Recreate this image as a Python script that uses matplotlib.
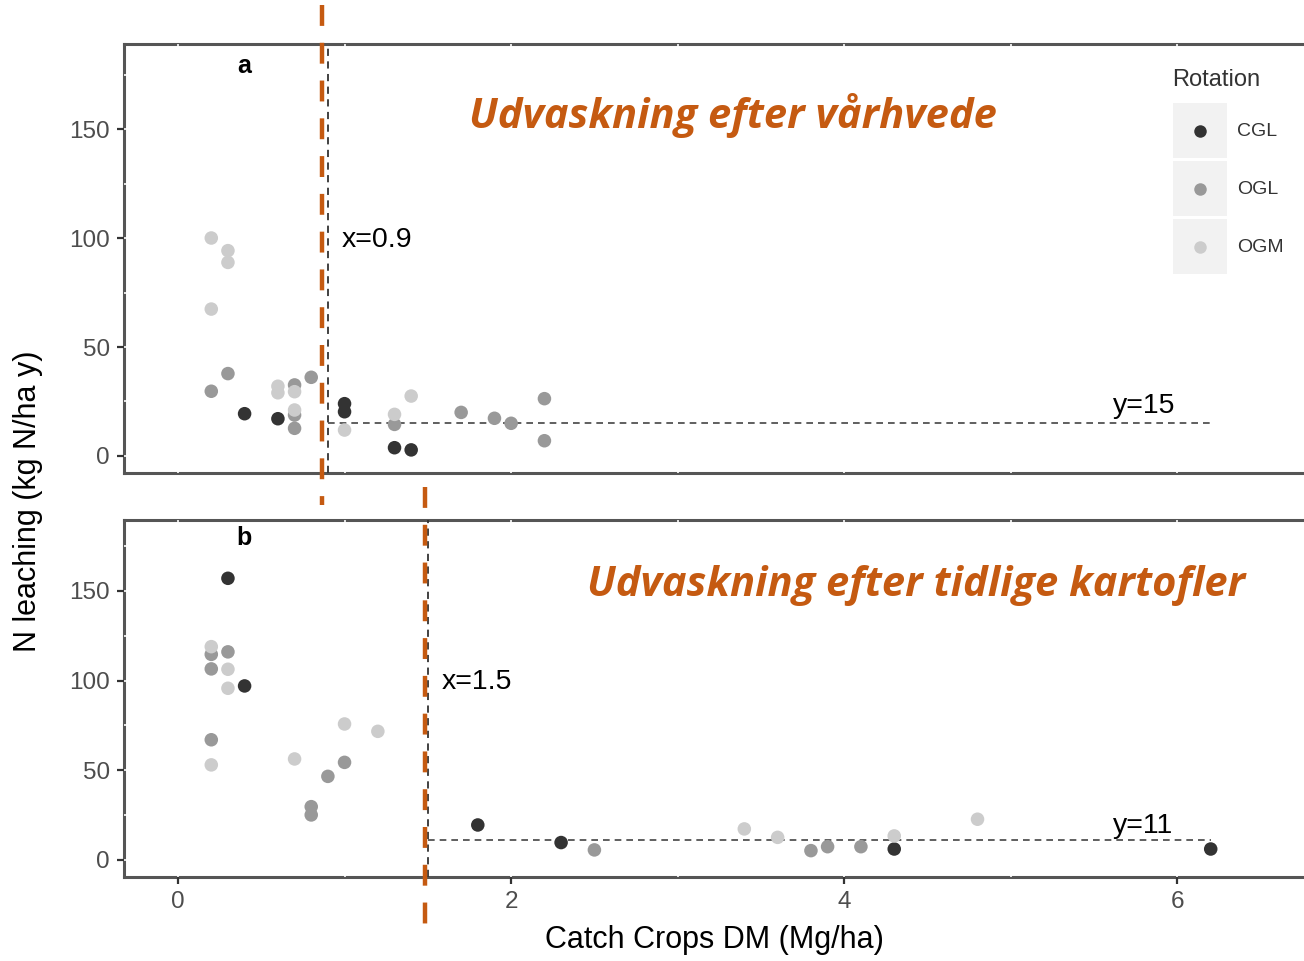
import matplotlib
matplotlib.use("Agg")
import matplotlib.pyplot as plt
import matplotlib.transforms as mtransforms
from matplotlib.patches import Rectangle
from matplotlib.lines import Line2D

plt.rcParams["font.family"] = ["Liberation Sans", "DejaVu Sans"]

# rotation groups and their grey shades
rotations = ["CGL", "OGL", "OGM"]
shades = {"CGL": "#333333", "OGL": "#999999", "OGM": "#cccccc"}

# panel a: after spring wheat
a_x = {
    "CGL": [0.4, 0.6, 1.0, 1.0, 1.3, 1.4],
    "OGL": [0.2, 0.3, 0.7, 0.7, 0.7, 0.8, 1.3, 1.7, 1.9, 2.0, 2.2, 2.2],
    "OGM": [0.2, 0.3, 0.3, 0.2, 0.6, 0.6, 0.7, 0.7, 1.0, 1.3, 1.4],
}
a_y = {
    "CGL": [19.4, 17.1, 24.0, 20.3, 3.8, 2.8],
    "OGL": [29.7, 37.8, 32.6, 18.8, 12.7, 36.1, 14.5, 20.0, 17.3, 15.0, 26.3, 7.0],
    "OGM": [100.0, 94.2, 88.8, 67.4, 32.0, 29.0, 29.5, 21.1, 11.9, 19.1, 27.5],
}

# panel b: after early potatoes
b_x = {
    "CGL": [0.3, 0.4, 1.8, 2.3, 4.3, 6.2],
    "OGL": [0.2, 0.3, 0.2, 0.2, 1.0, 0.9, 0.8, 0.8, 2.5, 3.8, 3.9, 4.1],
    "OGM": [0.2, 0.3, 0.3, 0.2, 0.7, 1.0, 1.2, 3.4, 3.6, 4.3, 4.8],
}
b_y = {
    "CGL": [157.0, 97.0, 19.5, 9.7, 6.1, 6.1],
    "OGL": [114.6, 116.0, 106.5, 67.0, 54.4, 46.6, 29.7, 25.1, 5.6, 5.2, 7.4, 7.4],
    "OGM": [118.9, 106.3, 95.7, 53.0, 56.3, 75.8, 71.7, 17.3, 12.6, 13.4, 22.7],
}

# thresholds
a_xcut, a_ylev = 0.9, 15
b_xcut, b_ylev = 1.5, 11
hline_end = 6.2
a_orange_x = 0.865
b_orange_x = 1.485

orange = "#C55A11"
W, H = 1304, 961

fig = plt.figure(figsize=(W / 100, H / 100), dpi=100)
ax_a = fig.add_axes([124 / W, 1 - 473 / H, 1 - 124 / W, (473 - 44) / H])
ax_b = fig.add_axes([124 / W, 1 - 877 / H, 1 - 124 / W, (877 - 520) / H])

panels = [
    (ax_a, a_x, a_y, (-7.8, 189.0), a_xcut, a_ylev, "a", "x=0.9", "y=15"),
    (ax_b, b_x, b_y, (-9.5, 189.5), b_xcut, b_ylev, "b", "x=1.5", "y=11"),
]

for ax, xs, ys, ylim, xcut, ylev, tag, xtxt, ytxt in panels:
    for rot in rotations:
        ax.scatter(xs[rot], ys[rot], s=95, color=shades[rot], edgecolors="none", zorder=3)
    ax.axvline(xcut, color="#333333", lw=1.3, ls=(0, (4, 3)), zorder=2.7)
    ax.plot([xcut, hline_end], [ylev, ylev], color="#444444", lw=1.2,
            ls=(0, (4, 3)), zorder=2.7)
    ax.set_xlim(-0.324, 6.76)
    ax.set_ylim(*ylim)
    ax.set_yticks([0, 50, 100, 150])
    ax.set_xticks([0, 2, 4, 6])
    ax.set_yticks([25, 75, 125, 175], minor=True)
    ax.set_xticks([1, 3, 5], minor=True)
    # white grid drawn over the border, like the ggplot panel
    ax.set_axisbelow(False)
    ax.grid(True, which="both", color="white", lw=1.2)
    for side in ["left", "top", "bottom"]:
        ax.spines[side].set_color("#555555")
        ax.spines[side].set_linewidth(2.2)
    ax.spines["right"].set_visible(False)
    ax.tick_params(axis="both", which="major", colors="#333333", labelcolor="#4d4d4d",
                   labelsize=17.5, length=5, width=1.6, pad=5)
    ax.tick_params(axis="both", which="minor", length=0)
    ax.text(0.396, ylim[1] - 10, tag, fontsize=18, fontweight="bold",
            ha="center", va="center", zorder=4)
    ax.text(xcut + 0.085, 99, xtxt, fontsize=20.5, ha="left", va="center", zorder=4)
    ax.text(5.616, ylev + 8, ytxt, fontsize=20.5, ha="left", va="center", zorder=4)

ax_a.tick_params(axis="x", which="major", bottom=False, labelbottom=False)
ax_b.set_xlabel("Catch Crops DM (Mg/ha)", fontsize=22, labelpad=9)
fig.text(28 / W, 1 - 501 / H, "N leaching (kg N/ha y)", fontsize=22,
         rotation=90, ha="center", va="center")

# orange overlay lines, data x / figure y
for ax, ox, y0, y1 in [(ax_a, a_orange_x, 5, 505), (ax_b, b_orange_x, 487, 937)]:
    tr = mtransforms.blended_transform_factory(ax.transData, fig.transFigure)
    ax.add_line(Line2D([ox, ox], [1 - y0 / H, 1 - y1 / H], transform=tr,
                       color=orange, lw=3.2, dashes=(4.7, 3.8), clip_on=False, zorder=5))

title_font = ["Open Sans", "DejaVu Sans"]
fig.text(469 / W, 1 - 128 / H, "Udvaskning efter vårhvede", color=orange,
         fontsize=30, fontweight="bold", style="italic", family=title_font,
         ha="left", va="baseline")
fig.text(587 / W, 1 - 596 / H, "Udvaskning efter tidlige kartofler", color=orange,
         fontsize=30, fontweight="bold", style="italic", family=title_font,
         ha="left", va="baseline")

# legend
fig.text(1172 / W, 1 - 80 / H, "Rotation", fontsize=17, color="#333333",
         ha="left", va="center")
for i, rot in enumerate(rotations):
    top = 103 + i * 58
    fig.add_artist(Rectangle((1173 / W, 1 - (top + 55) / H), 54 / W, 55 / H,
                             transform=fig.transFigure, facecolor="#f2f2f2",
                             edgecolor="none"))
    fig.add_artist(Line2D([1200 / W], [1 - (top + 27.5) / H], marker="o",
                          markersize=9, color=shades[rot], markeredgewidth=0,
                          transform=fig.transFigure))
    fig.text(1237 / W, 1 - (top + 28) / H, rot, fontsize=14, color="#333333",
             ha="left", va="center")

fig.savefig("out.png", dpi=100)
